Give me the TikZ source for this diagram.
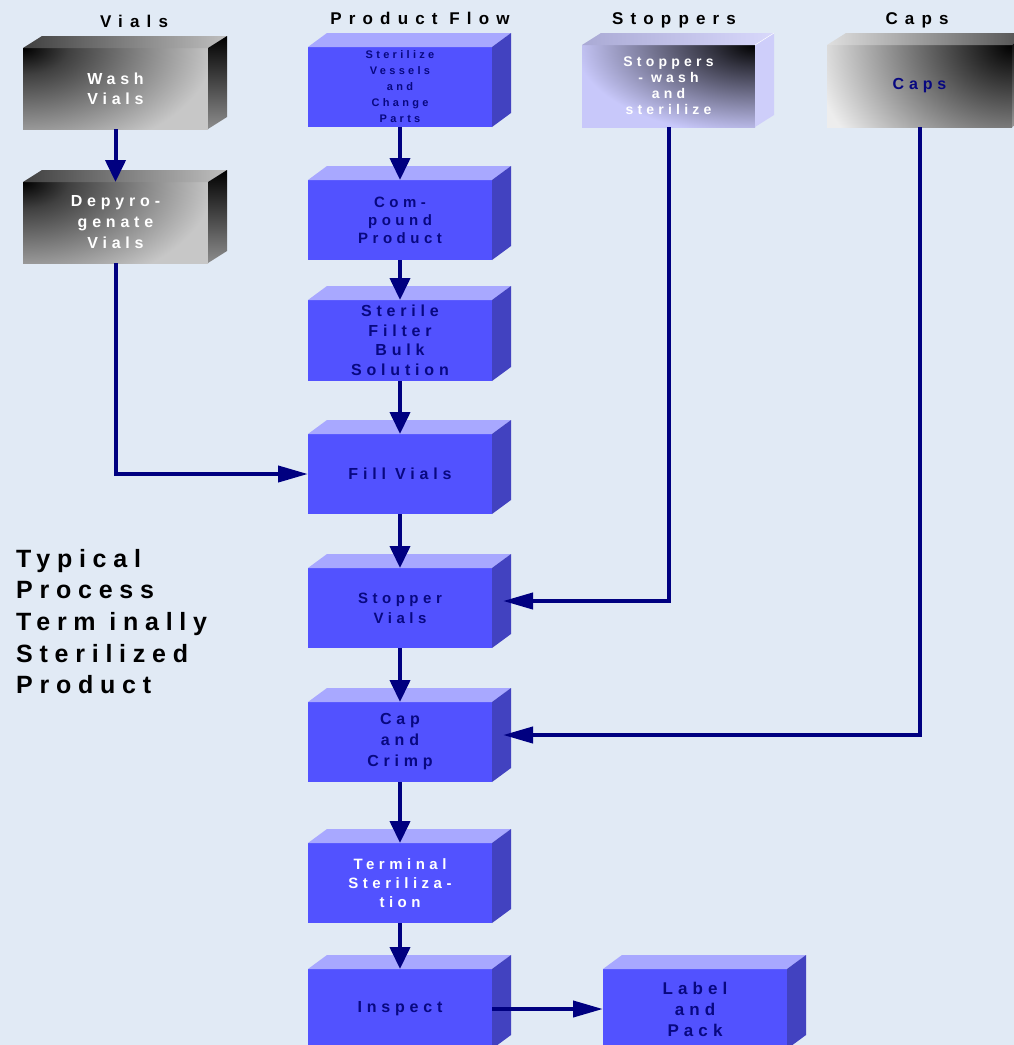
\documentclass[tikz,border=0pt]{standalone}
\usepackage{fontspec}
\setmainfont{Liberation Sans}
\newfontfamily\spacedfont{Liberation Sans}[LetterSpace=30]
\newfontfamily\titlefont{Liberation Sans}[LetterSpace=42]
\newfontfamily\bigfont{Liberation Sans}[LetterSpace=27]
\usetikzlibrary{arrows.meta}
\definecolor{bg}{RGB}{225,234,245}
\definecolor{bluefront}{RGB}{82,82,255}
\definecolor{bluetop}{RGB}{168,168,255}
\definecolor{blueside}{RGB}{66,66,192}
\definecolor{navy}{RGB}{0,0,128}
\definecolor{navytext}{RGB}{8,8,128}
\definecolor{lavender}{RGB}{200,200,250}
\pgfdeclareradialshading{washglow}{\pgfpoint{0bp}{0bp}}{rgb(0bp)=(0,0,0); rgb(3bp)=(0.25,0.25,0.25); rgb(12.5bp)=(0.78,0.78,0.78); rgb(50bp)=(0.78,0.78,0.78)}
\pgfdeclareradialshading{stopglow}{\pgfpoint{0bp}{0bp}}{rgb(0bp)=(0,0,0); rgb(3bp)=(0.2,0.2,0.25); rgb(12.5bp)=(0.784,0.784,0.98); rgb(50bp)=(0.784,0.784,0.98)}
\pgfdeclareradialshading{capglow}{\pgfpoint{0bp}{0bp}}{rgb(0bp)=(0,0,0); rgb(12.5bp)=(0.93,0.93,0.93); rgb(50bp)=(0.93,0.93,0.93)}
\newcommand\boxtxt[2]{\spacedfont\bfseries\fontsize{#1}{#2}\selectfont}
\newcommand\bluefaces[1]{%
  \fill[bluetop] (#1.north west) -- ++(19,-14) -- ([shift={(19,-14)}]#1.north east) -- (#1.north east) -- cycle;
  \fill[blueside] (#1.north east) -- ++(19,-14) -- ([shift={(19,-14)}]#1.south east) -- (#1.south east) -- cycle;}
\tikzset{
  box/.style={minimum width=184pt, minimum height=80pt, inner sep=0pt, outer sep=0pt, align=center},
  bluebox/.style={box, fill=bluefront, text=navytext},
  graybox/.style={box, minimum width=185pt, minimum height=81pt, text=white, fill=gray!45,
    path picture={\shade[shading=washglow] (path picture bounding box.north west) ellipse (380pt and 220pt);}},
  title/.style={font=\titlefont\bfseries\fontsize{17}{20}\selectfont, anchor=base, inner sep=0pt},
  flow/.style={draw=navy, line width=4pt, -{Triangle[length=22pt,width=20pt]}},
  flowh/.style={draw=navy, line width=4pt, -{Triangle[length=30pt,width=16pt]}},
}
\begin{document}
\begin{tikzpicture}[x=1pt,y=-1pt]
\useasboundingbox (0,0) rectangle (1014,1045);
\clip (0,0) rectangle (1014,1045);
\fill[bg] (0,0) rectangle (1014,1045);

% titles
\node[title] (t1) at (134,27) {Vials};
\node[title] (t2) at (420,24) {Product Flow};
\node[title] (t3) at (674,24) {Stoppers};
\node[title] (t4) at (917,24) {Caps};

% side title
\node[anchor=north west, align=left, inner sep=0pt, font=\bigfont\bfseries\fontsize{25}{31.6}\selectfont] (side) at (16,549)
  {Typical\\Process\\Term inally\\Sterilized\\Product};

% gray boxes (vials)
\node[graybox, font={\boxtxt{16}{20}}] (wv) at (115.5,88.5) {Wash\\Vials};
\node[graybox, font={\boxtxt{16}{21}}] (dv) at (115.5,222.5) {Depyro-\\genate\\Vials};
\foreach \b in {wv,dv}{
  \shade[left color=black!75, right color=black!25] (\b.north west) -- ++(19,-12) -- ([shift={(19,-12)}]\b.north east) -- (\b.north east) -- cycle;
  \shade[top color=black, bottom color=black!45] (\b.north east) -- ++(19,-12) -- ([shift={(19,-12)}]\b.south east) -- (\b.south east) -- cycle;
}

% stoppers box
\node[box, minimum width=173pt, minimum height=82pt, text=white, font={\boxtxt{14}{16}}, fill=lavender,
      path picture={\shade[shading=stopglow] (path picture bounding box.north east) ellipse (360pt and 180pt);}] (st) at (668.5,86) {Stoppers\\- wash\\and\\sterilize};
\shade[left color=lavender!85!black, right color=lavender!70!white] (st.north west) -- ++(19,-12) -- ([shift={(19,-12)}]st.north east) -- (st.north east) -- cycle;
\fill[lavender!90!white] (st.north east) -- ++(19,-12) -- ([shift={(19,-12)}]st.south east) -- (st.south east) -- cycle;
\draw[white, line width=0.5pt] (st.north east) -- ++(19,-12);

% caps box
\node[box, minimum width=185pt, minimum height=82pt, text=navytext, font={\boxtxt{16}{20}}, fill=gray!15,
      path picture={\shade[shading=capglow] (path picture bounding box.north east) ellipse (400pt and 320pt);}] (ca) at (919.5,86) {Caps};
\shade[left color=gray!25, right color=black!70] (ca.north west) -- ++(19,-12) -- ([shift={(19,-12)}]ca.north east) -- (ca.north east) -- cycle;
\shade[top color=black, bottom color=black!40] (ca.north east) -- ++(19,-12) -- ([shift={(19,-12)}]ca.south east) -- (ca.south east) -- cycle;

% product flow boxes
\node[bluebox, font={\boxtxt{11}{16}}] (sv) at (400,87) {Sterilize\\Vessels\\and\\Change\\Parts};
\node[bluebox, font={\boxtxt{15}{18}}] (cp) at (400,220) {Com-\\pound\\Product};
\node[bluebox, minimum height=81pt, font={\boxtxt{16}{19.5}}] (sf) at (400,340.5) {Sterile\\Filter\\Bulk\\Solution};
\node[bluebox, font={\boxtxt{16}{20}}] (fv) at (400,474) {Fill Vials};
\node[bluebox, font={\boxtxt{15}{20}}] (stv) at (400,608) {Stopper\\Vials};
\node[bluebox, font={\boxtxt{16}{21}}] (cc) at (400,742) {Cap\\and\\Crimp};
\node[bluebox, text=white, font={\boxtxt{15}{18.7}}] (ts) at (400,883) {Terminal\\Steriliza-\\tion};
\node[bluebox, font={\boxtxt{16}{20}}] (in) at (400,1009) {Inspect};
\node[bluebox, font={\boxtxt{17}{21}}] (lp) at (695,1009) {Label\\and\\Pack};
\foreach \b in {sv,cp,sf,fv,stv,cc,ts,in,lp}{\bluefaces{\b}}

% connectors
\coordinate (stvside) at (503,601);
\coordinate (ccside) at (503,735);
\draw[flow] (wv.south) -- (dv.north);
\draw[flowh] (dv.south) |- (fv.west);
\draw[flow] (sv.south) -- (cp.north);
\draw[flow] (cp.south) -- (sf.north);
\draw[flow] (sf.south) -- (fv.north);
\draw[flow] (fv.south) -- (stv.north);
\draw[flow] (stv.south) -- (cc.north);
\draw[flow] (cc.south) -- (ts.north);
\draw[flow] (ts.south) -- (in.north);
\draw[flowh] (st.south) |- (stvside);
\draw[flowh] (ca.south) |- (ccside);
\draw[flowh] (in.east) -- (lp.west);
\end{tikzpicture}
\end{document}
